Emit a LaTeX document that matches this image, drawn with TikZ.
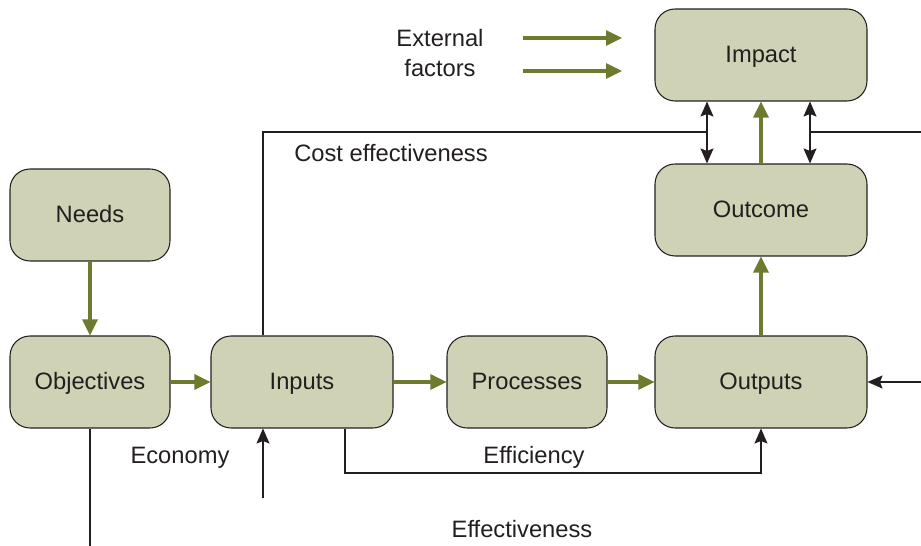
\documentclass[tikz,border=0pt]{standalone}
\usepackage{fontspec}
\setmainfont{Liberation Sans}
\usepackage{xcolor}
\usepackage{tikz}
\usetikzlibrary{arrows.meta}

\definecolor{boxfill}{RGB}{207,210,181}
\definecolor{arrowgreen}{RGB}{110,122,46}
\definecolor{inkgray}{RGB}{35,31,32}

\tikzset{
  box/.style={draw=inkgray, fill=boxfill, rounded corners=0.4cm, minimum height=1.84cm, line width=0.6pt, text height=9pt, text depth=0pt},
  flow/.style={draw=arrowgreen, line width=1.8pt, -{Triangle[length=0.32cm,width=0.3cm]}},
  link/.style={draw=inkgray, line width=0.75pt, >={Stealth[length=0.3cm,width=0.26cm,inset=0.05cm]}},
}

\begin{document}
\begin{tikzpicture}[x=0.02cm, y=-0.02cm, font=\fontsize{13.5}{17}\selectfont, text=inkgray]
\useasboundingbox (0,0) rectangle (921,546);

\node[box, minimum width=4.24cm] (impact) at (761,55) {Impact};
\node[box, minimum width=4.24cm] (outcome) at (761,210) {Outcome};
\node[box, minimum width=3.2cm] (needs) at (90,215) {Needs};
\node[box, minimum width=3.2cm] (objectives) at (90,382) {Objectives};
\node[box, minimum width=3.64cm] (inputs) at (302,382) {Inputs};
\node[box, minimum width=3.2cm] (processes) at (527,382) {Processes};
\node[box, minimum width=4.24cm] (outputs) at (761,382) {Outputs};

\node[align=center] (extlbl) at (440,53) {External\\factors};
\node (costlbl) at (391,153) {Cost effectiveness};
\node (econlbl) at (180,458) {Economy};
\node (efficlbl) at (534,457) {Efficiency};
\node (effectlbl) at (522,529) {Effectiveness};

% main chain
\draw[flow] (needs) -- (objectives);
\draw[flow] (objectives) -- (inputs);
\draw[flow] (inputs) -- (processes);
\draw[flow] (processes) -- (outputs);
\draw[flow] (outputs) -- (outcome);
\draw[flow] (outcome) -- (impact);
\foreach \y/\n in {38/a,71/b} {
  \coordinate (ext\n s) at (523,\y);
  \coordinate (ext\n e) at (622,\y);
  \draw[flow] (ext\n s) -- (ext\n e);
}

% measures
\coordinate (dblL) at (707,0);
\coordinate (dblR) at (810,0);
\draw[link,<->] (outcome.north -| dblL) -- (impact.south -| dblL);
\draw[link,<->] (outcome.north -| dblR) -- (impact.south -| dblR);

\coordinate (costx) at (263,132);
\coordinate (costend) at (921,132);
\draw[link] (inputs.north -| costx) |- (dblL |- costx);
\draw[link] (dblR |- costend) -- (costend);

\coordinate (outin) at (921,382);
\draw[link,->] (outin) -- (outputs.east);

\coordinate (econ) at (263,498);
\draw[link,->] (econ) -- (inputs.south -| econ);

\coordinate (effy) at (345,473);
\draw[link,->] (inputs.south -| effy) |- (outputs.south |- effy) -- (outputs.south);

\coordinate (objend) at (90,546);
\draw[link] (objectives) -- (objend);
\end{tikzpicture}
\end{document}
